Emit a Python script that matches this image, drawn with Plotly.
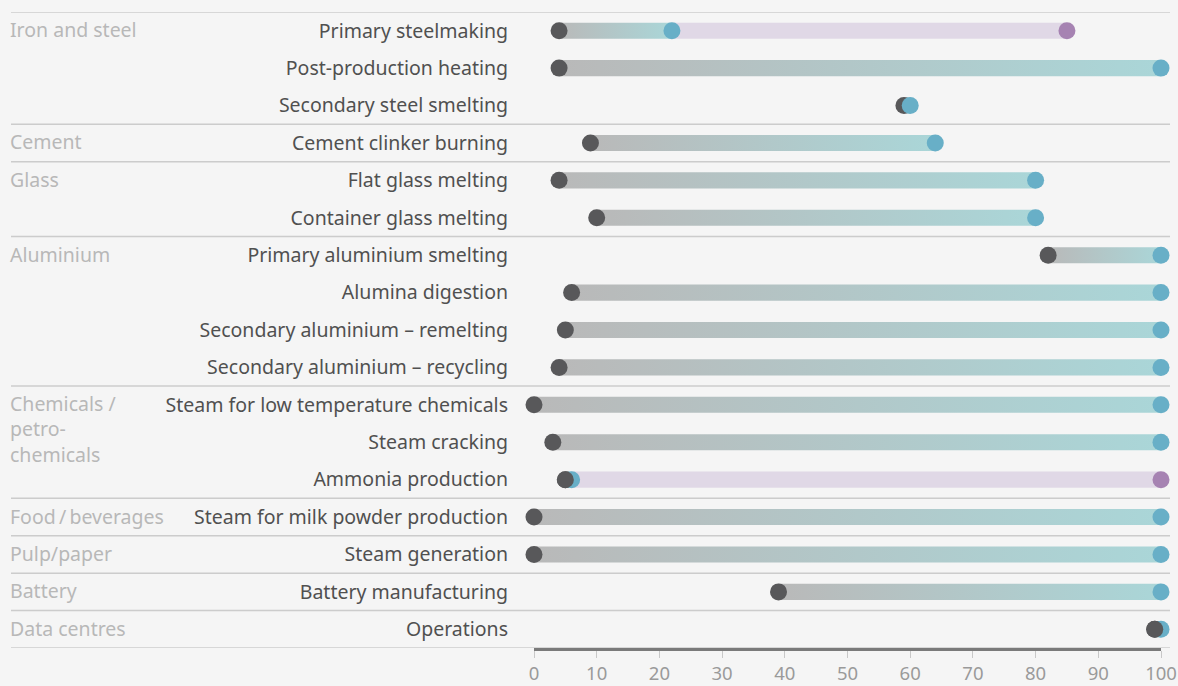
import plotly.graph_objects as go

rows = [
    "Primary steelmaking", "Post-production heating", "Secondary steel smelting",
    "Cement clinker burning",
    "Flat glass melting", "Container glass melting",
    "Primary aluminium smelting", "Alumina digestion",
    "Secondary aluminium – remelting", "Secondary aluminium – recycling",
    "Steam for low temperature chemicals", "Steam cracking", "Ammonia production",
    "Steam for milk powder production",
    "Steam generation",
    "Battery manufacturing",
    "Operations",
]
start_vals = [4, 4, 59, 9, 4, 10, 82, 6, 5, 4, 0, 3, 5, 0, 0, 39, 99]
blue_vals = [22, 100, 60, 64, 80, 80, 100, 100, 100, 100, 100, 100, 6, 100, 100, 100, 100]
purple_vals = [85, None, None, None, None, None, None, None, None, None, None, None, 100,
               None, None, None, None]
dark_front_rows = ["Ammonia production", "Operations"]

group_names = ["Iron and steel", "Cement", "Glass", "Aluminium",
               "Chemicals /<br>petro-<br>chemicals", "Food\u2009/\u2009beverages",
               "Pulp/paper", "Battery", "Data centres"]
group_sizes = [3, 1, 2, 4, 3, 1, 1, 1, 1]
x_ticks = [0, 10, 20, 30, 40, 50, 60, 70, 80, 90, 100]

BG = "#f5f5f5"
DARK = "#58585a"
BLUE = "#68afc7"
PURPLE = "#a683b2"
PURPLE_BAR = "#e0d8e6"
GREY_BAR = "#b9b9b9"
TEAL_BAR = "#aad6d8"
SEP = "#cccccc"
FONT = "Noto Sans"
FS = 19.5

fig = go.Figure()
h = 0.215
ypos = list(range(len(rows)))

for i, (s, b, p) in enumerate(zip(start_vals, blue_vals, purple_vals)):
    if p is not None:
        fig.add_trace(go.Scatter(
            x=[b, p, p, b, b], y=[i - h, i - h, i + h, i + h, i - h],
            fill="toself", mode="none", fillcolor=PURPLE_BAR,
            hoverinfo="skip", showlegend=False))
    fig.add_trace(go.Scatter(
        x=[s, b, b, s, s], y=[i - h, i - h, i + h, i + h, i - h],
        fill="toself", mode="none",
        fillgradient=dict(type="horizontal",
                          colorscale=[[0, GREY_BAR], [1, TEAL_BAR]]),
        hoverinfo="skip", showlegend=False))

mk = dict(size=17, line=dict(width=0))
fig.add_trace(go.Scatter(x=start_vals, y=ypos, mode="markers",
                         marker=dict(color=DARK, **mk), cliponaxis=False,
                         showlegend=False))
fig.add_trace(go.Scatter(x=blue_vals, y=ypos, mode="markers",
                         marker=dict(color=BLUE, **mk), cliponaxis=False,
                         showlegend=False))
px_, py_ = [], []
for i, p in enumerate(purple_vals):
    if p is not None:
        px_.append(p)
        py_.append(i)
fig.add_trace(go.Scatter(x=px_, y=py_, mode="markers",
                         marker=dict(color=PURPLE, **mk), cliponaxis=False,
                         showlegend=False))
fx, fy = [], []
for i, r in enumerate(rows):
    if r in dark_front_rows:
        fx.append(start_vals[i])
        fy.append(i)
fig.add_trace(go.Scatter(x=fx, y=fy, mode="markers",
                         marker=dict(color=DARK, **mk), cliponaxis=False,
                         showlegend=False))

W, H = 1178, 686
L, R, T, B = 534, 17, 12, 38
plot_w = W - L - R
x0p = (11 - L) / plot_w
x1p = (1170 - L) / plot_w

shapes = []
annotations = []
edge = -0.5
shapes.append(dict(type="line", xref="paper", yref="y", x0=x0p, x1=x1p,
                   y0=edge, y1=edge, line=dict(color=SEP, width=1.5), layer="below"))
for name, n in zip(group_names, group_sizes):
    nlines = name.count("<br>") + 1
    yrow = edge + 0.5 + (nlines - 1) / 2
    ysh = 1 if nlines == 1 else 13
    annotations.append(dict(xref="paper", yref="y", x=x0p, y=yrow, text=name,
                            xanchor="left", yanchor="middle", yshift=ysh, xshift=-3,
                            showarrow=False, align="left",
                            font=dict(size=FS, color="#b8b8b8", family=FONT)))
    edge += n
    shapes.append(dict(type="line", xref="paper", yref="y", x0=x0p, x1=x1p,
                       y0=edge, y1=edge, line=dict(color=SEP, width=1.5), layer="below"))

fig.update_layout(
    width=W, height=H,
    margin=dict(l=L, r=R, t=T, b=B, autoexpand=False),
    paper_bgcolor=BG, plot_bgcolor=BG,
    font=dict(family=FONT, color="#505050", size=FS),
    shapes=shapes, annotations=annotations,
    xaxis=dict(range=[0, 100], tickvals=x_ticks, showgrid=False, zeroline=False,
               showline=True, linecolor="#7a7a7a", linewidth=3, automargin=False,
               ticks="outside", ticklen=7, tickcolor="#c8c8c8", tickwidth=1,
               tickfont=dict(size=18.5, color="#9a9a9a")),
    yaxis=dict(range=[16.5, -0.5], tickvals=ypos, ticktext=rows, showgrid=False,
               zeroline=False, showline=False, ticks="", ticklabelstandoff=25,
               automargin=False,
               tickfont=dict(size=FS, color="#505050")),
)

fig.write_html(
    "out.html",
    config={"displayModeBar": False},
    post_script="document.body.style.margin='0';"
                "document.body.style.background='" + BG + "';"
                "document.body.style.overflow='hidden';",
)
